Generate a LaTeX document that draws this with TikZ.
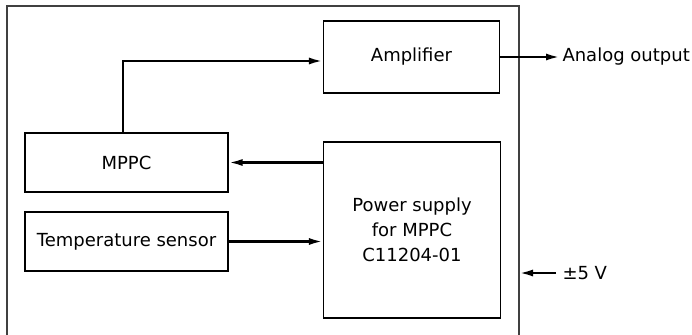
\documentclass[tikz,border=0pt]{standalone}
\usepackage{fontspec}
\setmainfont{DejaVu Sans}
\usetikzlibrary{arrows.meta}

\tikzset{
  blockbox/.style={draw,line width=1.1pt,inner sep=0pt,align=center},
  sigline/.style={line width=2.4pt,-{Latex[length=14pt,width=7pt]}}
}

\begin{document}
\begin{tikzpicture}[x=1pt,y=-1pt,line width=1pt,font=\fontsize{18}{25}\selectfont]
\useasboundingbox (0,0) rectangle (692,334);
% outer frame, open at the bottom
\draw[line width=1.6pt,black!75] (7,336)--(7,6)--(519,6)--(519,336);
\node[blockbox,minimum width=176pt,minimum height=72pt] (amp) at (411.5,57) {Amplifier};
\node[blockbox,minimum width=203pt,minimum height=59pt] (mppc) at (126.5,162.5) {MPPC};
\node[blockbox,minimum width=203pt,minimum height=59pt] (temp) at (126.5,241.5) {Temperature sensor};
\node[blockbox,minimum width=177pt,minimum height=176pt] (power) at (412,230) {Power supply\\for MPPC\\C11204-01};
\node[anchor=west,inner sep=2pt] (aout) at (560,57) {Analog output};
\node[anchor=west,inner sep=2pt] (vlabel) at (560,273) {±5 V};
\coordinate (vin) at (519,273);
\draw[sigline] ([xshift=-3.5pt]mppc.north) |- ([yshift=-4pt]amp.west);
\draw[sigline] (amp.east) -- (aout.west);
\draw[sigline] (power.west |- mppc.east) -- (mppc.east);
\draw[sigline] (temp.east) -- (temp.east -| power.west);
\draw[sigline] ([xshift=-4pt]vlabel.west) -- (vin);
\end{tikzpicture}
\end{document}
